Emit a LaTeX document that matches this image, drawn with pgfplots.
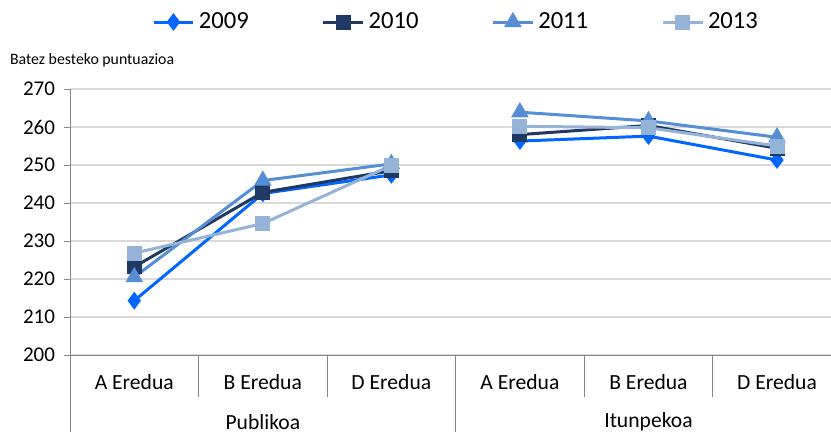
\documentclass[border=0pt]{standalone}
\usepackage{fontspec}
\setmainfont{Carlito}
\usepackage{pgfplots}
\pgfplotsset{compat=1.18}
\definecolor{cnine}{RGB}{0,102,255}
\definecolor{cten}{RGB}{31,56,100}
\definecolor{celeven}{RGB}{85,142,213}
\definecolor{cthirteen}{RGB}{149,179,215}
\definecolor{gridgray}{RGB}{217,217,217}
\definecolor{axgray}{RGB}{134,134,134}

\begin{document}
\begin{tikzpicture}
\useasboundingbox (0,0) rectangle (415.5pt,216pt);
\begin{axis}[
  at={(35pt,38.5pt)}, anchor=south west,
  scale only axis, width=380.5pt, height=133pt,
  xmin=-0.5, xmax=5.42, ymin=200, ymax=270,
  axis x line=bottom, axis y line=left,
  axis line style={-,axgray},
  ytick={200,210,...,270},
  xtick={0,...,5},
  xticklabels={A Eredua,B Eredua,D Eredua,A Eredua,B Eredua,D Eredua},
  xtick style={draw=none},
  ytick style={axgray},
  tick align=outside,
  major tick length=3pt,
  ymajorgrids, grid style={gridgray,line width=0.8pt},
  x tick label style={font=\fontsize{10.8}{12}\selectfont,yshift=-3pt},
  y tick label style={font=\fontsize{10.5}{12}\selectfont,xshift=-1pt},
  /pgf/number format/assume math mode=true,
  clip=false,
  legend columns=4,
  legend style={at={(0.5085,1.2519)},anchor=center,draw=none,
    font=\fontsize{12.3}{14}\selectfont,inner sep=0pt,
    /tikz/every even column/.append style={column sep=34.5pt}},
  legend image code/.code={\draw[mark repeat=2,mark phase=2,#1]
    plot coordinates {(0cm,0cm) (0.35cm,0cm) (0.7cm,0cm)};},
  every axis plot/.append style={line width=1.5pt},
]
% Publikoa
\addplot[cnine,mark=diamond*,mark size=3.2pt] coordinates {(0,214.3) (1,242.5) (2,247.4)};
\addlegendentry{2009}
\addplot[cten,mark=square*,mark size=3pt] coordinates {(0,223.2) (1,242.8) (2,248.5)};
\addlegendentry{2010}
\addplot[celeven,mark=triangle*,mark size=3.6pt] coordinates {(0,220.5) (1,245.9) (2,250.3)};
\addlegendentry{2011}
\addplot[cthirteen,mark=square*,mark size=3pt] coordinates {(0,226.8) (1,234.6) (2,249.9)};
\addlegendentry{2013}
% Itunpekoa
\addplot[cnine,mark=diamond*,mark size=3.2pt,forget plot] coordinates {(3,256.3) (4,257.6) (5,251.3)};
\addplot[cten,mark=square*,mark size=3pt,forget plot] coordinates {(3,258.0) (4,260.4) (5,254.4)};
\addplot[celeven,mark=triangle*,mark size=3.6pt,forget plot] coordinates {(3,263.9) (4,261.6) (5,257.3)};
\addplot[cthirteen,mark=square*,mark size=3pt,forget plot] coordinates {(3,260.2) (4,259.8) (5,255.0)};
% category separators
\draw[axgray] (axis cs:0.5,200) -- ++(0pt,-21pt);
\draw[axgray] (axis cs:1.5,200) -- ++(0pt,-21pt);
\draw[axgray] (axis cs:3.5,200) -- ++(0pt,-21pt);
\draw[axgray] (axis cs:4.5,200) -- ++(0pt,-21pt);
\draw[axgray] (axis cs:-0.5,200) -- ++(0pt,-38.5pt);
\draw[axgray] (axis cs:2.5,200) -- ++(0pt,-38.5pt);
\node[font=\fontsize{10.8}{12}\selectfont] at ([yshift=-33.5pt]axis cs:1,200) {Publikoa};
\node[font=\fontsize{10.8}{12}\selectfont] at ([yshift=-33.5pt]axis cs:4,200) {Itunpekoa};
\end{axis}
\node[anchor=west,font=\fontsize{7.9}{9}\selectfont] at (1.5pt,186pt) {Batez besteko puntuazioa};
\end{tikzpicture}
\end{document}
